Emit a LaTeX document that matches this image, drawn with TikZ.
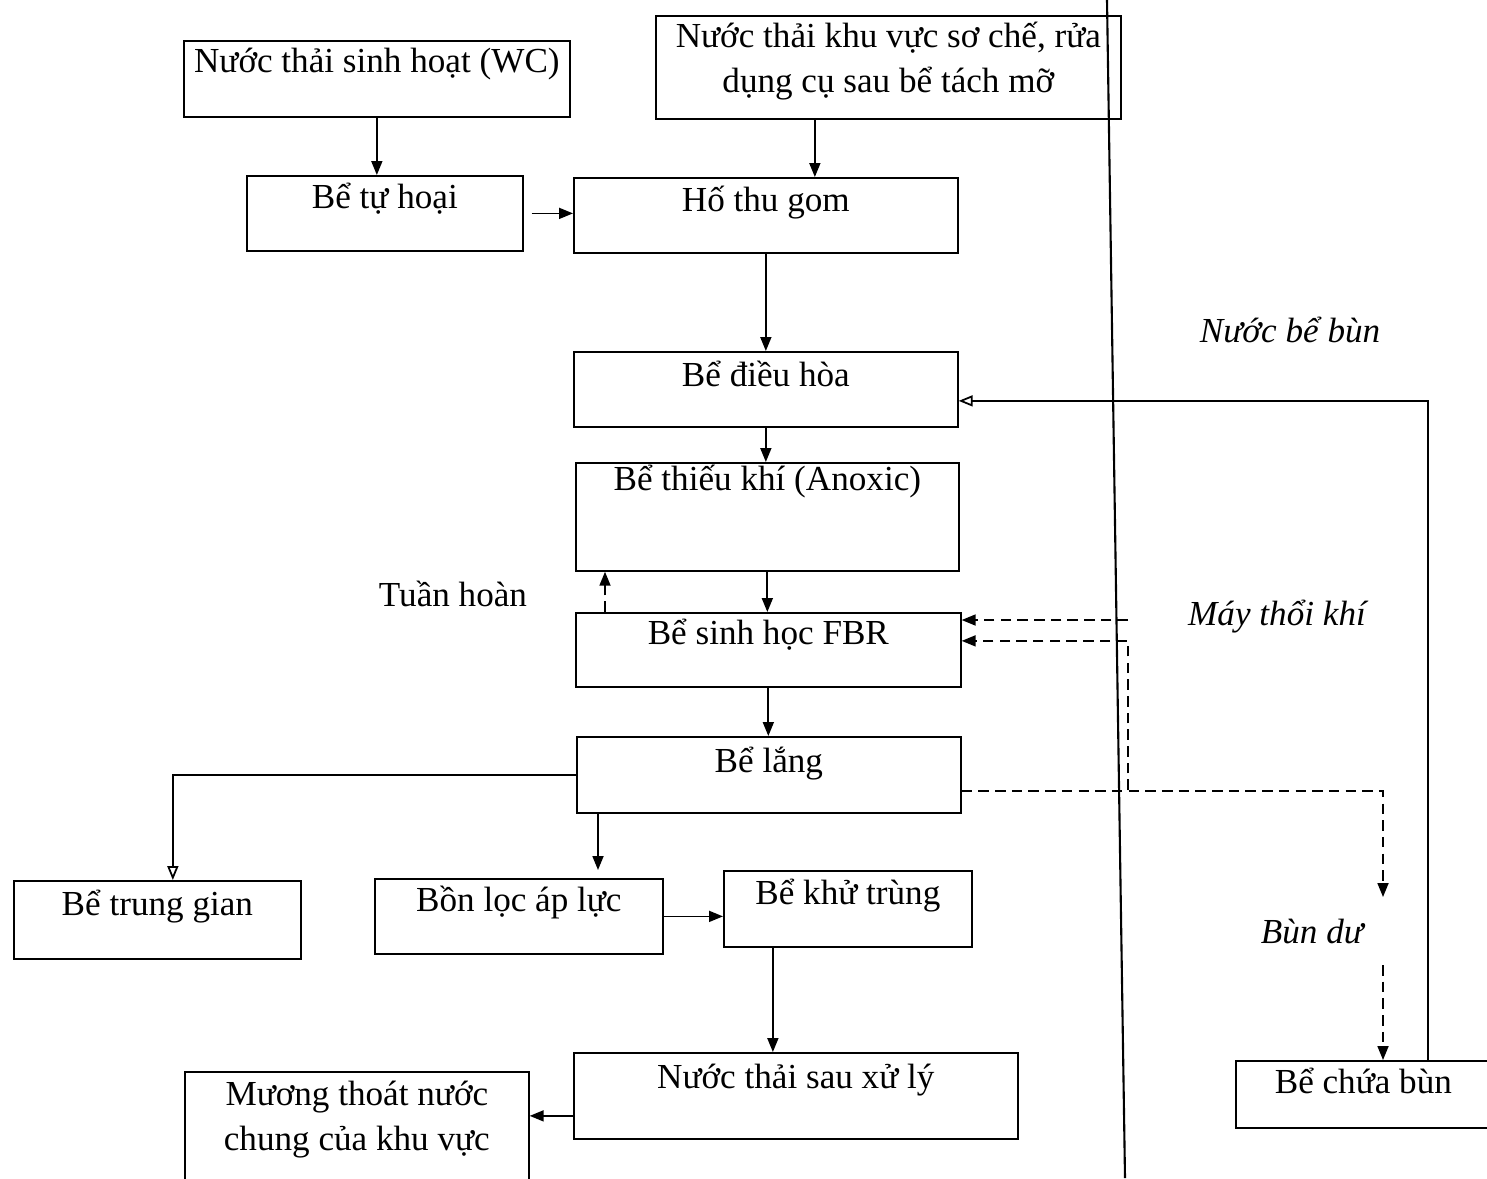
\documentclass[tikz,border=0pt]{standalone}
\usepackage{fontspec}
\setmainfont{Liberation Serif}
\usepackage{tikz}
\usetikzlibrary{arrows.meta,calc,positioning}
\newcommand{\boxfont}{\fontsize{20}{25.6}\selectfont}
\tikzset{
    box/.style={draw,line width=1pt,anchor=north west,inner sep=0pt,font=\boxfont,align=center},
    lbl/.style={inner sep=0pt,font=\boxfont},
    ilbl/.style={inner sep=0pt,font=\boxfont\itshape},
    flow/.style={-{Triangle[length=0.28cm,width=0.22cm]},line width=1pt},
    open_flow/.style={-{Triangle[open,length=0.28cm,width=0.22cm]},line width=1pt},
    dash_flow/.style={-{Triangle[length=0.28cm,width=0.22cm]},line width=1pt,dash pattern=on 6pt off 3.5pt},
}

\begin{document}
\begin{tikzpicture}[x=0.02cm,y=-0.02cm]
\useasboundingbox (0,0) rectangle (1487,1178);
% --- Sources ---
        \node[box,minimum width=7.72cm,text height=0.64cm,text depth=0.88cm] (wc) at (183,40) {Nước thải sinh hoạt (WC)};
        \node[box,minimum width=9.30cm,text height=1.54cm,text depth=0.52cm] (soche) at (655,15) {Nước thải khu vực sơ chế, rửa\\dụng cụ sau bể tách mỡ};
        \node[box,minimum width=5.52cm,text height=0.66cm,text depth=0.84cm] (tuhoai) at (246,175) {Bể tự hoại};
        \node[box,minimum width=7.68cm,text height=0.68cm,text depth=0.82cm] (thugom) at (573,177) {Hố thu gom};
% --- Main line ---
        \node[box,minimum width=7.68cm,text height=0.70cm,text depth=0.80cm] (dieuhoa) at (573,351) {Bể điều hòa};
        \node[box,minimum width=7.66cm,text height=0.56cm,text depth=1.60cm] (anoxic) at (575,462) {Bể thiếu khí (Anoxic)};
        \node[box,minimum width=7.70cm,text height=0.64cm,text depth=0.84cm] (fbr) at (575,612) {Bể sinh học FBR};
        \node[box,minimum width=7.68cm,text height=0.72cm,text depth=0.80cm] (lang) at (576,736) {Bể lắng};
% --- Lower row ---
        \node[box,minimum width=5.74cm,text height=0.70cm,text depth=0.86cm] (trunggian) at (13,880) {Bể trung gian};
        \node[box,minimum width=5.76cm,text height=0.66cm,text depth=0.84cm] (loc) at (374,878) {Bồn lọc áp lực};
        \node[box,minimum width=4.96cm,text height=0.68cm,text depth=0.84cm] (khutrung) at (723,870) {Bể khử trùng};
        \node[box,minimum width=8.88cm,text height=0.72cm,text depth=1.00cm] (sauxuly) at (573,1052) {Nước thải sau xử lý};
        \node[box,minimum width=6.88cm,text height=1.58cm,text depth=1.02cm] (muong) at (184,1071) {Mương thoát nước\\chung của khu vực};
        \node[box,minimum width=5.10cm,text height=0.66cm,text depth=0.68cm] (chuabun) at (1235,1060) {Bể chứa bùn};
% --- Labels ---
        \node[lbl] (tuanhoan) at (453,594) {Tuần hoàn};
        \node[ilbl] (nuocbun) at (1290,330) {Nước bể bùn};
        \node[ilbl] (maythoi) at (1277,617) {Máy thổi khí};
        \node[ilbl] (bundu) at (1312,931) {Bùn dư};
% --- Divider ---
        \draw[line width=1.2pt] (1107,0) -- (1125,1178);
% --- Water flow ---
        \draw[flow] (wc.south) -- (wc.south |- tuhoai.north);
        \draw[flow] ([xshift=-1.47cm]soche.south) -- ([xshift=-1.47cm]soche.south |- thugom.north);
        \draw[flow] ([xshift=0.16cm]tuhoai.east) -- (tuhoai.east -| thugom.west);
        \draw[flow] (thugom.south) -- (dieuhoa.north);
        \draw[flow] (dieuhoa.south) -- (dieuhoa.south |- anoxic.north);
        \draw[flow] (anoxic.south) -- (anoxic.south |- fbr.north);
        \draw[dash_flow] ([xshift=0.6cm]fbr.north west) -- ([xshift=0.6cm]fbr.north west |- anoxic.south);
        \draw[flow] (fbr.south) -- (fbr.south |- lang.north);
        \draw[open_flow] (lang.west) -| ([xshift=0.31cm]trunggian.north);
        \draw[flow] ([xshift=0.44cm]lang.south west) -- ([xshift=0.44cm,yshift=0.16cm]lang.south west |- loc.north);
        \draw[flow] (loc.east) -- (loc.east -| khutrung.west);
        \draw[flow] ([xshift=-1.5cm]khutrung.south) -- ([xshift=-1.5cm]khutrung.south |- sauxuly.north);
        \draw[flow] ([yshift=-0.4cm]sauxuly.west) -- ([yshift=-0.4cm]sauxuly.west -| muong.east);
% --- Sludge water back ---
        \draw[open_flow] ([xshift=3.86cm]chuabun.north west) |- ([yshift=-0.23cm]dieuhoa.east);
% --- Air and sludge (dashed) ---
        \coordinate (air) at (1128,620);
        \coordinate (ret) at (1128,790);
        \coordinate (bd1) at (1383,897);
        \coordinate (bd2) at (1383,965);
        \draw[dash_flow] (air) -- (air -| fbr.east);
        \draw[dash_flow] (ret) |- ([yshift=0.18cm]fbr.east);
        \draw[dash_flow] ([yshift=-0.32cm]lang.east) -| (bd1);
        \draw[dash_flow] (bd2) -- (bd2 |- chuabun.north);
\end{tikzpicture}
\end{document}
